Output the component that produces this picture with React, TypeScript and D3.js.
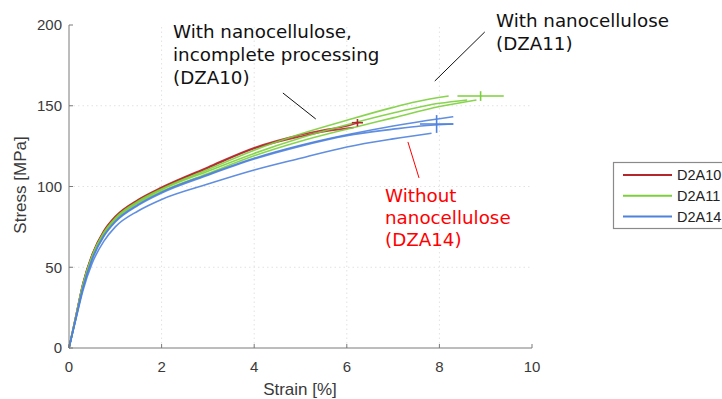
import * as d3 from "d3";

// strain [%], stress [MPa], one array per specimen
type Pt = [number, number];

const STRAIN_TICKS = [0, 2, 4, 6, 8, 10];
const STRESS_TICKS = [0, 50, 100, 150, 200];
const SERIES_NAMES = ["D2A10", "D2A11", "D2A14"];
const SERIES_COLORS = ["#b3262b", "#7ccf3c", "#4f82dd"];

const D2A10_CURVES: Pt[][] = [
	[[0, 0], [0.15, 20], [0.3, 40], [0.5, 58], [0.75, 72.5], [1, 81.5], [1.5, 92], [2, 99.5], [3, 112], [4, 124], [5, 132], [5.5, 135], [6, 137.5], [6.25, 139.5]],
	[[0, 0], [0.15, 20], [0.3, 39.5], [0.5, 57.5], [0.75, 72], [1, 81], [1.5, 91.5], [2, 99], [3, 111.5], [4, 123.5], [5, 131], [5.5, 134], [6, 136], [6.15, 136.5]],
];

const D2A11_CURVES: Pt[][] = [
	[[0, 0], [0.15, 19.5], [0.3, 39], [0.5, 57], [0.75, 71.5], [1, 80.5], [1.5, 91], [2, 98.5], [3, 110.5], [4, 122.5], [5, 132.5], [6, 141], [7, 149], [7.5, 152.5], [8.2, 156]],
	[[0, 0], [0.15, 19.5], [0.3, 39], [0.5, 57], [0.75, 71], [1, 80], [1.5, 90.5], [2, 98], [3, 109.5], [4, 120.5], [5, 130], [6, 138.2], [7, 145.5], [8, 151.5], [8.6, 153.6]],
	[[0, 0], [0.15, 19], [0.3, 38.5], [0.5, 56.5], [0.75, 70.5], [1, 79.5], [1.5, 90], [2, 97], [3, 108], [4, 119], [5, 128], [6, 135.5], [7, 142.5], [8, 149.5], [8.8, 153.6]],
];

const D2A14_CURVES: Pt[][] = [
	[[0, 0], [0.15, 18.5], [0.3, 37], [0.5, 55], [0.75, 69.5], [1, 78.5], [1.5, 89], [2, 96.5], [3, 107.5], [4, 117.5], [5, 125.5], [6, 132], [7, 137.5], [8, 142], [8.3, 143.2]],
	[[0, 0], [0.15, 18.5], [0.3, 37], [0.5, 55], [0.75, 69], [1, 78], [1.5, 88.5], [2, 96], [3, 107], [4, 117], [5, 125], [6, 131.5], [7, 135.5], [7.6, 137.5], [8.3, 138.7]],
	[[0, 0], [0.15, 18], [0.3, 35.5], [0.5, 52.5], [0.75, 66], [1, 75], [1.5, 85], [2, 92], [3, 101.5], [4, 110.2], [5, 117.5], [6, 124.5], [7, 129.5], [7.83, 133]],
];

// mean break point with spread: [strain, stress, ±strain, ±stress]
const BREAK_MEANS: number[][] = [
	[6.23, 139.5, 0.12, 2.3],
	[8.89, 156, 0.5, 3],
	[7.94, 138.7, 0.36, 5.5],
];

const W = 722;
const H = 399;

export default function App() {
	const x = d3.scaleLinear().domain([0, 10]).range([69, 532]);
	const y = d3.scaleLinear().domain([0, 200]).range([348, 25]);
	const line = d3
		.line<Pt>()
		.x((d) => x(d[0]))
		.y((d) => y(d[1]))
		.curve(d3.curveMonotoneX);

	const groups = [D2A10_CURVES, D2A11_CURVES, D2A14_CURVES];
	const axisColor = "#7a7a7a";
	const tickFont = "'Liberation Sans', Arial, sans-serif";
	const noteFont = "'DejaVu Sans', Verdana, sans-serif";

	return (
		<>
			<style>{`body{margin:0}`}</style>
			<svg width={W} height={H} style={{ display: "block", background: "#fff" }}>
				{/* grid */}
				{STRAIN_TICKS.slice(1, -1).map((t) => (
					<line key={`gx${t}`} x1={x(t)} x2={x(t)} y1={y(0)} y2={y(200)} stroke="#e2e2e2" strokeDasharray="1.5,3" />
				))}
				{STRESS_TICKS.slice(1, -1).map((t) => (
					<line key={`gy${t}`} x1={x(0)} x2={x(10)} y1={y(t)} y2={y(t)} stroke="#e2e2e2" strokeDasharray="1.5,3" />
				))}

				{/* curves */}
				{groups.map((curves, gi) =>
					curves.map((c, ci) => (
						<path
							key={`c${gi}-${ci}`}
							d={line(c) ?? ""}
							fill="none"
							stroke={SERIES_COLORS[gi]}
							strokeWidth={1.6}
							strokeOpacity={0.9}
						/>
					)),
				)}

				{/* break point crosses */}
				{BREAK_MEANS.map(([mx, my, ex, ey], i) => (
					<g key={`m${i}`} stroke={SERIES_COLORS[i]} strokeWidth={1.6}>
						<line x1={x(mx - ex)} x2={x(mx + ex)} y1={y(my)} y2={y(my)} />
						<line x1={x(mx)} x2={x(mx)} y1={y(my - ey)} y2={y(my + ey)} />
					</g>
				))}

				{/* axes */}
				<line x1={x(0)} x2={x(0)} y1={y(0)} y2={y(200)} stroke={axisColor} />
				<line x1={x(0)} x2={x(10)} y1={y(0)} y2={y(0)} stroke={axisColor} />
				{STRAIN_TICKS.map((t) => (
					<g key={`tx${t}`}>
						<line x1={x(t)} x2={x(t)} y1={y(0)} y2={y(0) - 4} stroke={axisColor} />
						<text x={x(t)} y={372} textAnchor="middle" fontFamily={tickFont} fontSize={15} fill="#3a3a3a">
							{t}
						</text>
					</g>
				))}
				{STRESS_TICKS.map((t) => (
					<g key={`ty${t}`}>
						<line x1={x(0)} x2={x(0) + 4} y1={y(t)} y2={y(t)} stroke={axisColor} />
						<text x={62} y={y(t)} dy="0.35em" textAnchor="end" fontFamily={tickFont} fontSize={15} fill="#3a3a3a">
							{t}
						</text>
					</g>
				))}
				<text x={300} y={395} textAnchor="middle" fontFamily={tickFont} fontSize={17} fill="#3a3a3a">
					Strain [%]
				</text>
				<text
					transform={`translate(26,185) rotate(-90)`}
					textAnchor="middle"
					fontFamily={tickFont}
					fontSize={17}
					fill="#3a3a3a"
				>
					Stress [MPa]
				</text>

				{/* annotations */}
				<line x1={x(4.62)} y1={y(157.9)} x2={x(5.33)} y2={y(141.8)} stroke="#111" />
				<line x1={x(8.98)} y1={y(195.7)} x2={x(7.9)} y2={y(165.3)} stroke="#111" />
				<line x1={x(7.32)} y1={y(127.6)} x2={x(7.56)} y2={y(105.3)} stroke="#ff0000" />
				<text fontFamily={noteFont} fontSize={18.3} fill="#111">
					<tspan x={173} y={38}>With nanocellulose,</tspan>
					<tspan x={173} y={61}>incomplete processing</tspan>
					<tspan x={173} y={84}>(DZA10)</tspan>
				</text>
				<text fontFamily={noteFont} fontSize={18.3} fill="#111">
					<tspan x={496} y={27}>With nanocellulose</tspan>
					<tspan x={496} y={50}>(DZA11)</tspan>
				</text>
				<text fontFamily={noteFont} fontSize={18.3} fill="#ff0000">
					<tspan x={385} y={202}>Without</tspan>
					<tspan x={385} y={224}>nanocellulose</tspan>
					<tspan x={385} y={246}>(DZA14)</tspan>
				</text>

				{/* legend */}
				<rect x={613.5} y={162.5} width={120} height={66} fill="#fff" stroke="#8a8a8a" strokeWidth={1.2} />
				{SERIES_NAMES.map((name, i) => (
					<g key={name} transform={`translate(0,${175 + i * 20.8})`}>
						<line x1={623} x2={672} y1={0} y2={0} stroke={SERIES_COLORS[i]} strokeWidth={2} />
						<text x={677} y={0} dy="0.36em" fontFamily={tickFont} fontSize={14.5} fill="#222">
							{name}
						</text>
					</g>
				))}
			</svg>
		</>
	);
}
